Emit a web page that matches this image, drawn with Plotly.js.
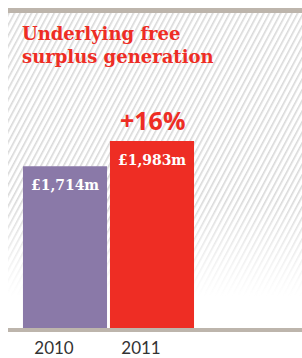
<!DOCTYPE html>
<html><head><meta charset="utf-8">
<script src="https://cdn.plot.ly/plotly-3.0.1.min.js"></script>
<style>html,body{margin:0;padding:0;background:#fff;}#chart{width:302px;height:358px;}</style>
</head><body><div id="chart"></div>
<script>
const years = ['2010', '2011'];
const surplus = [1714, 1983];
const valueLabels = ['£1,714m', '£1,983m'];
const changeLabel = '+16%';
const barColors = ['#8a79a8', '#ee2d24'];
const titleText = 'Underlying free<br>surplus generation';

const svg = `<svg xmlns="http://www.w3.org/2000/svg" width="294" height="315" viewBox="0 0 294 315">
<defs>
<pattern id="p" patternUnits="userSpaceOnUse" width="5" height="5" patternTransform="rotate(28)">
<rect x="0" y="0" width="1.6" height="5" fill="#d9d9d9"/></pattern>
<linearGradient id="g" x1="0" y1="0" x2="0" y2="1">
<stop offset="0" stop-color="#fff"/><stop offset="0.6" stop-color="#fff"/><stop offset="0.9" stop-color="#000"/></linearGradient>
<mask id="m"><rect width="294" height="315" fill="url(#g)"/></mask>
</defs>
<rect width="294" height="315" fill="url(#p)" mask="url(#m)"/></svg>`;
const bgSrc = 'data:image/svg+xml;charset=utf-8,' + encodeURIComponent(svg);

const annotations = years.map((y, i) => ({
  x: i, y: surplus[i], xref: 'x', yref: 'y', text: '<b>' + valueLabels[i] + '</b>',
  showarrow: false, yanchor: 'top', yshift: -7,
  font: {family: 'DejaVu Serif Condensed, DejaVu Serif', size: 15.5, color: '#ffffff'}
}));
annotations.push({
  x: 1, y: surplus[1], xref: 'x', yref: 'y', text: '<b>' + changeLabel + '</b>',
  showarrow: false, yanchor: 'bottom', yshift: 2,
  font: {family: 'Open Sans', size: 25, color: '#ee2d24'}
});
annotations.push({
  x: 12/294, y: 1 - 8/315, xref: 'paper', yref: 'paper', text: '<b>' + titleText + '</b>',
  showarrow: false, xanchor: 'left', yanchor: 'top', align: 'left',
  font: {family: 'DejaVu Serif', size: 18, color: '#ee2d24'}
});

const gd = document.getElementById('chart');
Plotly.newPlot(gd, [{
  type: 'bar', x: years, y: surplus,
  marker: {color: barColors, line: {width: 0}},
  hoverinfo: 'skip'
}], {
  width: 302, height: 358,
  margin: {l: 8, r: 0, t: 13, b: 30},
  paper_bgcolor: '#ffffff', plot_bgcolor: 'rgba(0,0,0,0)',
  bargap: 0.034,
  showlegend: false,
  xaxis: {type: 'category', range: [-0.655, 2.724], showgrid: false, zeroline: false, showline: false,
    ticks: '', ticklabelshift: -11, ticklabelstandoff: 8,
    tickfont: {family: 'Lato', size: 17, color: '#333333'}, fixedrange: true},
  yaxis: {range: [0, 3340], visible: false, fixedrange: true},
  images: [{source: bgSrc, xref: 'paper', yref: 'paper', x: 0, y: 1, sizex: 1, sizey: 1,
    xanchor: 'left', yanchor: 'top', sizing: 'stretch', layer: 'below'}],
  shapes: [
    {type: 'rect', xref: 'paper', yref: 'paper', x0: 0, x1: 1, y0: 1, y1: 1 + 5/315, fillcolor: '#bdb5ac', line: {width: 0}},
    {type: 'rect', xref: 'paper', yref: 'paper', x0: 0, x1: 1, y0: 0, y1: -4/315, fillcolor: '#bdb5ac', line: {width: 0}}
  ],
  annotations: annotations
}, {displayModeBar: false, staticPlot: true});
</script></body></html>
